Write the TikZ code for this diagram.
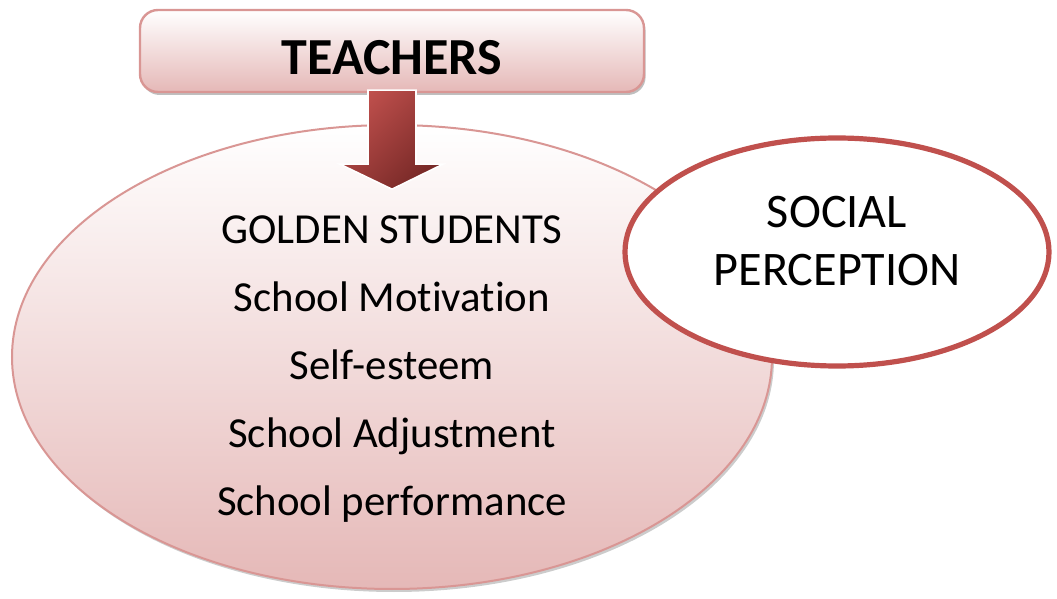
\documentclass[tikz,border=0pt]{standalone}
\usepackage{fontspec}
\setmainfont{Carlito}[Ligatures={NoCommon}]
\usepackage{tikz}
\definecolor{rosedark}{RGB}{192, 80, 77}
\definecolor{roseline}{RGB}{217, 150, 148}
\definecolor{rosefill}{RGB}{229, 184, 183}
\definecolor{winedark}{RGB}{118, 40, 38}
\usetikzlibrary{shapes.geometric, shadows, positioning, calc}

\begin{document}
\begin{tikzpicture}[x=0.5pt, y=-0.5pt,
    titlebox/.style={rectangle, draw=roseline, line width=1.2pt, rounded corners=9pt, minimum width=252pt, minimum height=41pt, top color=white, bottom color=rosefill, drop shadow={shadow xshift=0.8pt, shadow yshift=-1.5pt, fill=black!50, opacity=0.5}, font=\fontsize{26}{30}\selectfont\bfseries, text height=24pt},
    bigoval/.style={ellipse, draw=roseline, line width=1pt, inner sep=0pt, minimum width=380pt, minimum height=232pt, top color=white, bottom color=rosefill, drop shadow={shadow xshift=1pt, shadow yshift=-1.5pt, fill=black!40, opacity=0.5}},
    sideoval/.style={ellipse, draw=rosedark, line width=2.6pt, fill=white, inner sep=0pt, minimum width=212pt, minimum height=114pt},
    bodytext/.style={align=center, font=\fontsize{21.4}{34}\selectfont},
    sidetext/.style={align=center, font=\fontsize{24.1}{29}\selectfont}
]
    \useasboundingbox (0,0) rectangle (1057,599);

    \node[bigoval] (students) at (392,357) {};
    \node[bodytext] (traits) at (392,369) {
        GOLDEN STUDENTS\\
        School Motivation\\
        Self-esteem\\
        School Adjustment\\
        School performance
    };

    \node[sideoval] (perception) at (837,252) {};
    \node[sidetext] (perceptiontext) at ($(perception.center)+(0,-11)$) {
        SOCIAL\\
        PERCEPTION
    };

    \node[titlebox] (teachers) at (392,51) {TEACHERS};

    % block arrow from the title down into the oval
    \coordinate (tip) at ($(teachers.south)+(0,96)$);
    \filldraw[draw=white, line width=0.8pt, top color=rosedark, bottom color=winedark, shading angle=45]
        ($(tip)+(-24,-99)$) -- ($(tip)+(24,-99)$) -- ($(tip)+(24,-25)$) -- ($(tip)+(51,-25)$)
        -- (tip) -- ($(tip)+(-52,-25)$) -- ($(tip)+(-24,-25)$) -- cycle;
\end{tikzpicture}
\end{document}
